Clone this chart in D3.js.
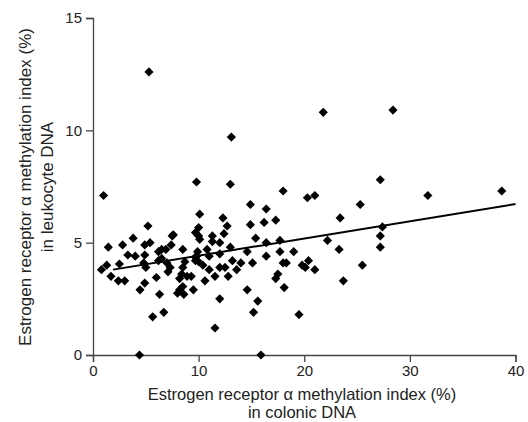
<!DOCTYPE html>
<html>
<head>
<meta charset="utf-8">
<script src="https://cdn.jsdelivr.net/npm/d3@7"></script>
<style>
  body { margin: 0; background: #fff; }
  text { font-family: "Liberation Sans", Arial, sans-serif; fill: #222; }
</style>
</head>
<body>
<div id="chart"></div>
<script>
// colonic DNA methylation index (%) vs leukocyte DNA methylation index (%)
const colonic = [5.3, 21.8, 28.4, 13.1, 1.0, 9.8, 13.0, 18.0, 20.3, 21.0, 27.2, 31.7, 38.7, 25.3, 23.4,
  27.4, 27.2, 27.2, 25.5, 14.9, 16.4, 10.1, 12.3, 12.7, 14.9, 16.2, 17.3, 5.2, 10.0, 12.4, 15.4, 16.4,
  17.7, 22.2, 23.3, 14.6, 17.7, 19.0, 16.4, 12.0, 13.2, 14.0, 15.1, 12.5, 13.6, 12.8, 18.0, 18.3, 19.8,
  20.4, 20.1, 21.0, 23.7, 17.5, 17.3, 18.1, 14.6, 12.0, 15.6, 15.2, 19.5, 15.9, 9.7, 10.0, 10.1, 11.3,
  11.3, 3.8, 2.8, 1.45, 7.5, 4.9, 5.4, 7.4, 3.3, 4.0, 4.9, 6.2, 6.5, 6.9, 8.5, 9.8, 9.9, 6.2, 6.5, 4.8,
  5.0, 2.5, 1.3, 0.8, 1.7, 2.4, 3.0, 4.45, 4.9, 6.0, 7.1, 7.3, 8.2, 8.4, 8.5, 8.7, 8.9, 9.3, 8.2, 8.5,
  8.0, 8.6, 9.5, 6.3, 6.7, 5.65, 4.4, 10.6, 11.0, 11.55, 12.0, 11.55, 10.0, 9.7, 7.6, 9.7, 7.0, 10.4,
  11.0, 10.8, 13.0, 12.0];
const leukocyte = [12.6, 10.8, 10.9, 9.7, 7.1, 7.7, 7.6, 7.3, 7.0, 7.1, 7.8, 7.1, 7.3, 6.7, 6.1,
  5.7, 5.3, 4.8, 4.0, 6.7, 6.5, 6.27, 6.1, 5.74, 5.8, 5.9, 6.0, 5.74, 5.67, 5.4, 5.2, 5.0,
  5.1, 5.1, 4.7, 4.6, 4.6, 4.6, 4.4, 4.5, 4.2, 4.1, 4.1, 3.9, 3.8, 3.5, 4.1, 4.1, 4.0,
  4.2, 3.9, 3.8, 3.3, 3.6, 3.4, 3.0, 2.9, 2.5, 2.4, 1.9, 1.8, 0, 5.45, 5.3, 5.15, 5.3,
  5.05, 5.2, 4.9, 4.8, 5.3, 4.9, 5.0, 4.9, 4.45, 4.4, 4.45, 4.6, 4.7, 4.7, 4.7, 4.4, 4.6, 4.2, 4.3, 4.1,
  3.9, 4.05, 4.0, 3.8, 3.5, 3.3, 3.3, 2.9, 3.2, 3.45, 3.7, 3.9, 3.4, 3.6, 3.9, 4.15, 3.5, 3.5, 2.9, 3.05,
  2.75, 2.7, 2.9, 2.7, 1.9, 1.7, 0, 3.3, 3.8, 3.5, 3.9, 1.2, 4.15, 4.2, 5.35, 4.35, 4.1, 4.0,
  4.4, 4.7, 4.8, 5.0];
// fitted regression line (endpoints)
const fitX = [1.9, 40];
const fitY = [3.8, 6.72];
const xTicks = [0, 10, 20, 30, 40];
const yTicks = [0, 5, 10, 15];

const W = 528, H = 422;
const margin = { left: 93, right: 12, top: 18, bottom: 67 };

const svg = d3.select('#chart').append('svg')
    .attr('width', W)
    .attr('height', H);

const x = d3.scaleLinear().domain([0, 40]).range([margin.left, W - margin.right - 0.5]);
const y = d3.scaleLinear().domain([0, 15]).range([H - margin.bottom, margin.top]);

// axes
const xAxis = svg.append('g')
    .attr('transform', `translate(0,${H - margin.bottom})`)
    .call(d3.axisBottom(x).tickValues(xTicks).tickSize(7).tickPadding(3).tickFormat(d3.format('d')));
const yAxis = svg.append('g')
    .attr('transform', `translate(${margin.left},0)`)
    .call(d3.axisLeft(y).tickValues(yTicks).tickSize(7).tickPadding(4).tickFormat(d3.format('d')));

[xAxis, yAxis].forEach(a => {
    a.select('.domain').attr('stroke', '#444').attr('stroke-width', 1.3);
    a.selectAll('.tick line').attr('stroke', '#444').attr('stroke-width', 1.3);
    a.selectAll('.tick text').attr('font-size', '15px').attr('fill', '#222')
        .style('font-family', '"Liberation Sans", Arial, sans-serif');
});

// points
const pts = colonic.map((c, i) => ({ c: c, l: leukocyte[i] }));
const diamond = d3.symbol().type(d3.symbolSquare).size(42);
svg.append('g').selectAll('path')
    .data(pts)
    .enter().append('path')
    .attr('d', diamond)
    .attr('transform', d => `translate(${x(d.c)},${y(d.l)}) rotate(45)`)
    .attr('fill', '#000');

// regression line
svg.append('line')
    .attr('x1', x(fitX[0])).attr('y1', y(fitY[0]))
    .attr('x2', x(fitX[1])).attr('y2', y(fitY[1]))
    .attr('stroke', '#000')
    .attr('stroke-width', 2);

// axis titles
const xt = svg.append('text')
    .attr('text-anchor', 'middle')
    .attr('font-size', '16.5px');
xt.append('tspan').attr('x', 302).attr('y', 400).text('Estrogen receptor \u03b1 methylation index (%)');
xt.append('tspan').attr('x', 302).attr('y', 418).text('in colonic DNA');

const yt = svg.append('text')
    .attr('text-anchor', 'middle')
    .attr('font-size', '17px')
    .attr('transform', 'translate(0,187) rotate(-90)');
yt.append('tspan').attr('x', 0).attr('y', 31).text('Estrogen receptor \u03b1 methylation index (%)');
yt.append('tspan').attr('x', 0).attr('y', 53).text('in leukocyte DNA');
</script>
</body>
</html>
